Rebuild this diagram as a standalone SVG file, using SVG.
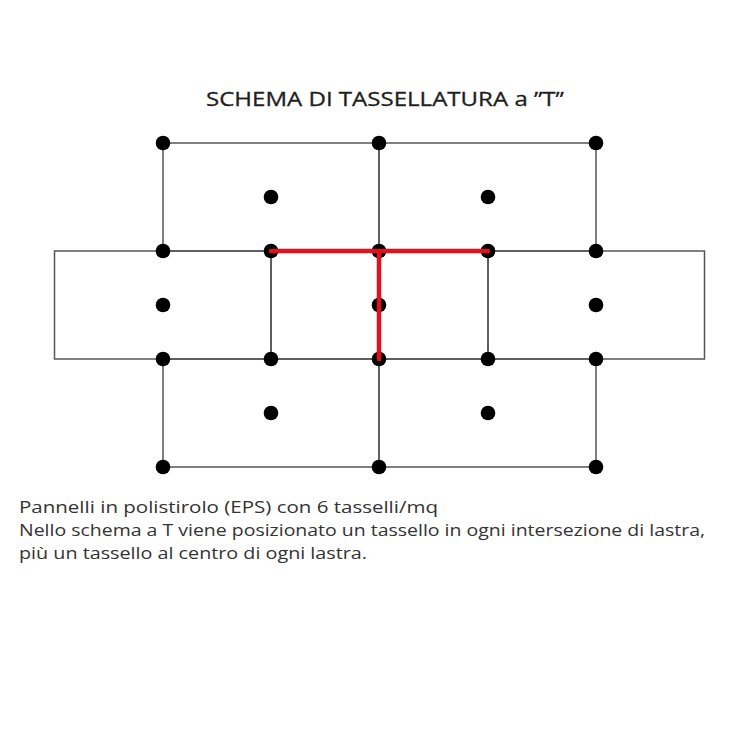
<svg xmlns="http://www.w3.org/2000/svg" width="735" height="735" viewBox="0 0 735 735">
<style>
.panel{fill:none;stroke:#555;stroke-width:1.5}
.dot{fill:#000}
.title{font-family:"Open Sans","Liberation Sans",sans-serif;font-size:20px;fill:#1e1e1e;stroke:#1e1e1e;stroke-width:0.3}
.body{font-family:"Open Sans","Liberation Sans",sans-serif;font-size:16.5px;fill:#333}
.red{fill:none;stroke:#e0101c;stroke-width:4.5;stroke-linecap:round}
</style>
<rect width="735" height="735" fill="#fff"/>
<text class="title" x="206" y="106" textLength="358" lengthAdjust="spacingAndGlyphs">SCHEMA DI TASSELLATURA a ”T”</text>
<g id="panels">
<rect class="panel" x="163" y="143" width="216" height="108"/>
<rect class="panel" x="379" y="143" width="217" height="108"/>
<rect class="panel" x="54.5" y="251" width="216.5" height="108"/>
<rect class="panel" x="271" y="251" width="217" height="108"/>
<rect class="panel" x="488" y="251" width="216.5" height="108"/>
<rect class="panel" x="163" y="359" width="216" height="108"/>
<rect class="panel" x="379" y="359" width="217" height="108"/>
</g>
<g id="dots">
<circle class="dot" cx="163" cy="143" r="7.3"/><circle class="dot" cx="379" cy="143" r="7.3"/><circle class="dot" cx="596" cy="143" r="7.3"/>
<circle class="dot" cx="271" cy="197" r="7.3"/><circle class="dot" cx="488" cy="197" r="7.3"/>
<circle class="dot" cx="163" cy="251" r="7.3"/><circle class="dot" cx="271" cy="251" r="7.3"/><circle class="dot" cx="379" cy="251" r="7.3"/><circle class="dot" cx="488" cy="251" r="7.3"/><circle class="dot" cx="596" cy="251" r="7.3"/>
<circle class="dot" cx="163" cy="305" r="7.3"/><circle class="dot" cx="379" cy="305" r="7.3"/><circle class="dot" cx="596" cy="305" r="7.3"/>
<circle class="dot" cx="163" cy="359" r="7.3"/><circle class="dot" cx="271" cy="359" r="7.3"/><circle class="dot" cx="379" cy="359" r="7.3"/><circle class="dot" cx="488" cy="359" r="7.3"/><circle class="dot" cx="596" cy="359" r="7.3"/>
<circle class="dot" cx="271" cy="413" r="7.3"/><circle class="dot" cx="488" cy="413" r="7.3"/>
<circle class="dot" cx="163" cy="467" r="7.3"/><circle class="dot" cx="379" cy="467" r="7.3"/><circle class="dot" cx="596" cy="467" r="7.3"/>
</g>
<g id="connectors">
<path class="red" d="M271 251 H488 M379 251 V359"/>
</g>
<g id="caption">
<text class="body" x="19" y="513" textLength="419" lengthAdjust="spacingAndGlyphs">Pannelli in polistirolo (EPS) con 6 tasselli/mq</text>
<text class="body" x="19" y="536" textLength="686" lengthAdjust="spacingAndGlyphs">Nello schema a T viene posizionato un tassello in ogni intersezione di lastra,</text>
<text class="body" x="19" y="559" textLength="348" lengthAdjust="spacingAndGlyphs">più un tassello al centro di ogni lastra.</text>
</g>
</svg>
